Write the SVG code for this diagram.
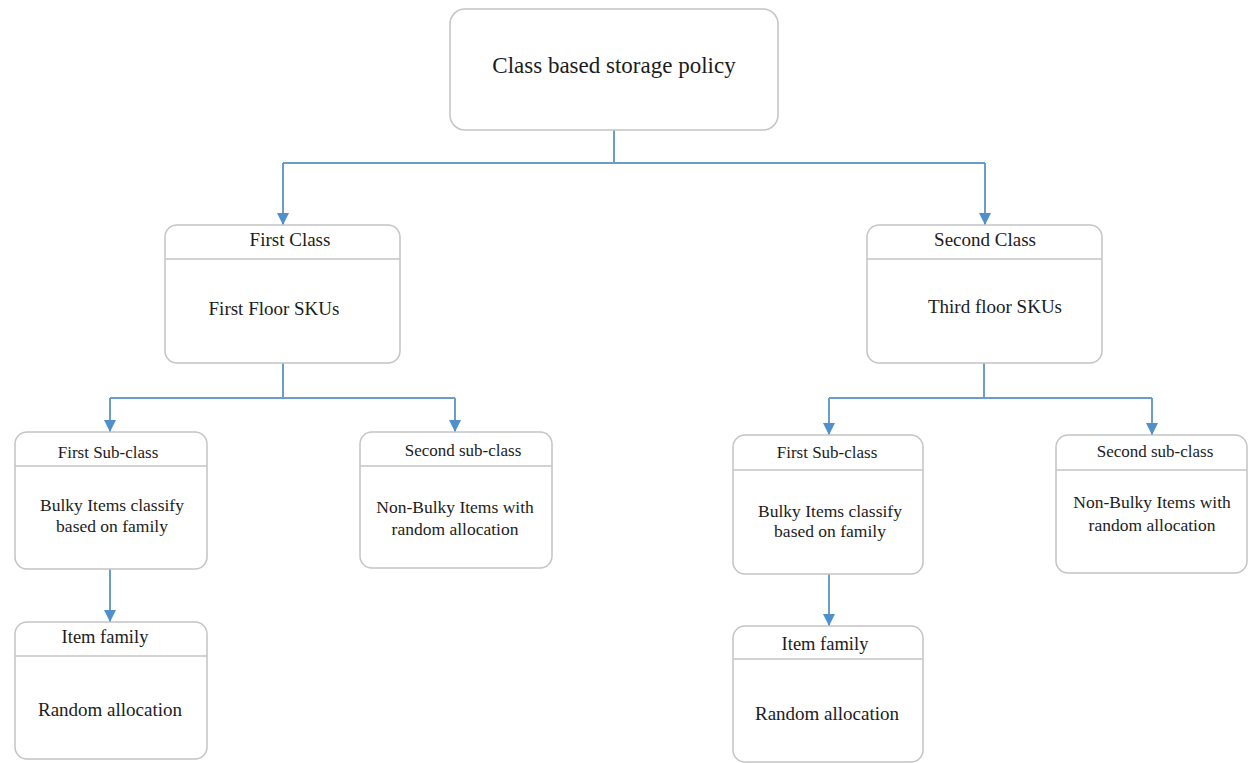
<svg xmlns="http://www.w3.org/2000/svg" width="1250" height="763" viewBox="0 0 1250 763">
  <defs>
    <marker id="arrow" viewBox="0 0 12 12" refX="12" refY="6" markerWidth="12" markerHeight="12" markerUnits="userSpaceOnUse" orient="auto">
      <path d="M0,0 L12,6 L0,12 Z" fill="#4f8fcb"/>
    </marker>
  </defs>
  <style>
    .box { fill: #ffffff; stroke: #c4c4c4; stroke-width: 1.5; }
    .div { stroke: #c4c4c4; stroke-width: 1.5; }
    .link { fill: none; stroke: #6a9dcb; stroke-width: 2; }
    .t { font-family: "Liberation Serif", "Times New Roman", serif; fill: #1c1c1c; text-anchor: middle; }
    .root { font-size: 23px; }
    .h1 { font-size: 19px; }
    .b1 { font-size: 19px; }
    .h2 { font-size: 17px; }
    .b2 { font-size: 17.5px; }
    .h3 { font-size: 18.5px; }
    .b3 { font-size: 19px; }
  </style>
  <rect width="1250" height="763" fill="#ffffff"/>

  <!-- connectors -->
  <g id="connectors">
    <polyline class="link" points="614,130 614,163"/>
    <polyline class="link" points="283,163 985,163"/>
    <polyline class="link" points="283,163 283,225" marker-end="url(#arrow)"/>
    <polyline class="link" points="985,163 985,225" marker-end="url(#arrow)"/>

    <polyline class="link" points="283,363 283,398"/>
    <polyline class="link" points="110,398 455,398"/>
    <polyline class="link" points="110,398 110,432" marker-end="url(#arrow)"/>
    <polyline class="link" points="455,398 455,432" marker-end="url(#arrow)"/>

    <polyline class="link" points="984,363 984,398"/>
    <polyline class="link" points="829,398 1152,398"/>
    <polyline class="link" points="829,398 829,435" marker-end="url(#arrow)"/>
    <polyline class="link" points="1152,398 1152,435" marker-end="url(#arrow)"/>

    <polyline class="link" points="110,569 110,622" marker-end="url(#arrow)"/>
    <polyline class="link" points="829,574 829,626" marker-end="url(#arrow)"/>
  </g>

  <!-- root policy -->
  <g id="policy">
    <rect class="box" x="450" y="9" width="328" height="121" rx="15"/>
    <text class="t root" x="614" y="73">Class based storage policy</text>
  </g>

  <!-- first class -->
  <g id="first-class">
    <rect class="box" x="165" y="225" width="235" height="138" rx="12"/>
    <line class="div" x1="165" y1="259" x2="400" y2="259"/>
    <text class="t h1" x="290" y="246">First Class</text>
    <text class="t b1" x="274" y="315">First Floor SKUs</text>
  </g>

  <!-- second class -->
  <g id="second-class">
    <rect class="box" x="867" y="225" width="235" height="138" rx="12"/>
    <line class="div" x1="867" y1="259" x2="1102" y2="259"/>
    <text class="t h1" x="985" y="246">Second Class</text>
    <text class="t b1" x="995" y="313">Third floor SKUs</text>
  </g>

  <!-- first class / first sub-class -->
  <g id="fc-sub1">
    <rect class="box" x="15" y="432" width="192" height="137" rx="12"/>
    <line class="div" x1="15" y1="466" x2="207" y2="466"/>
    <text class="t h2" x="108" y="458">First Sub-class</text>
    <text class="t b2" x="112" y="511">Bulky Items classify</text>
    <text class="t b2" x="112" y="532">based on family</text>
  </g>

  <!-- first class / item family -->
  <g id="fc-family">
    <rect class="box" x="15" y="622" width="192" height="137" rx="12"/>
    <line class="div" x1="15" y1="656" x2="207" y2="656"/>
    <text class="t h3" x="105" y="643">Item family</text>
    <text class="t b3" x="110" y="716">Random allocation</text>
  </g>

  <!-- first class / second sub-class -->
  <g id="fc-sub2">
    <rect class="box" x="360" y="432" width="192" height="136" rx="12"/>
    <line class="div" x1="360" y1="466" x2="552" y2="466"/>
    <text class="t h2" x="463" y="456">Second sub-class</text>
    <text class="t b2" x="455" y="513">Non-Bulky Items with</text>
    <text class="t b2" x="455" y="535">random allocation</text>
  </g>

  <!-- second class / first sub-class -->
  <g id="sc-sub1">
    <rect class="box" x="733" y="435" width="190" height="139" rx="12"/>
    <line class="div" x1="733" y1="470" x2="923" y2="470"/>
    <text class="t h2" x="827" y="458">First Sub-class</text>
    <text class="t b2" x="830" y="517">Bulky Items classify</text>
    <text class="t b2" x="830" y="537">based on family</text>
  </g>

  <!-- second class / item family -->
  <g id="sc-family">
    <rect class="box" x="733" y="626" width="190" height="136" rx="12"/>
    <line class="div" x1="733" y1="659" x2="923" y2="659"/>
    <text class="t h3" x="825" y="650">Item family</text>
    <text class="t b3" x="827" y="720">Random allocation</text>
  </g>

  <!-- second class / second sub-class -->
  <g id="sc-sub2">
    <rect class="box" x="1056" y="435" width="191" height="138" rx="12"/>
    <line class="div" x1="1056" y1="470" x2="1247" y2="470"/>
    <text class="t h2" x="1155" y="457">Second sub-class</text>
    <text class="t b2" x="1152" y="508">Non-Bulky Items with</text>
    <text class="t b2" x="1152" y="531">random allocation</text>
  </g>
</svg>
